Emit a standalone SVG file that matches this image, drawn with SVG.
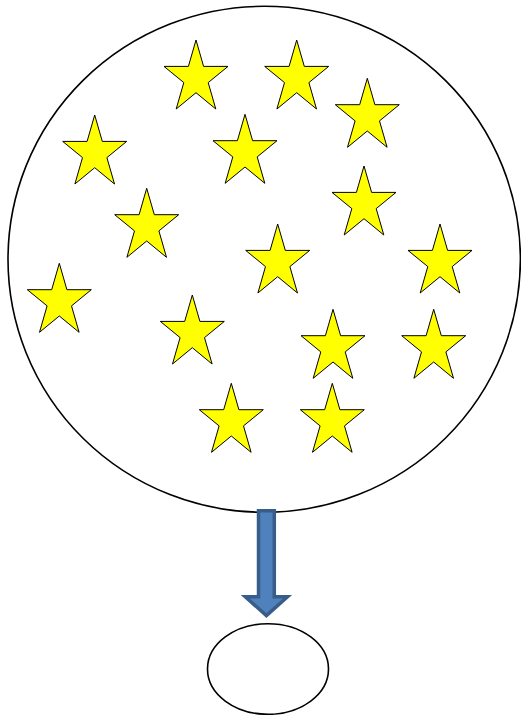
<svg xmlns="http://www.w3.org/2000/svg" xmlns:xlink="http://www.w3.org/1999/xlink" width="521" height="715" viewBox="0 0 521 715">
<style>
.outline{fill:#ffffff;stroke:#000000;stroke-width:1.6}
.star{fill:#ffff00;stroke:#000000;stroke-width:1;stroke-linejoin:miter}
.arrow{fill:#4f81bd;stroke:#385d8a;stroke-width:3.5;stroke-linejoin:miter}
</style>
<defs>
<path id="star" d="M32,0 L39.6,26.4 L64,26.4 L44.2,42.6 L51.8,69 L32,52.7 L12.2,69 L19.8,42.6 L0,26.4 L24.4,26.4 Z"/>
</defs>
<rect width="521" height="715" fill="#ffffff"/>
<g id="big-circle">
<ellipse class="outline" cx="264.2" cy="259.3" rx="256.2" ry="253"/>
</g>
<g id="stars" class="star">
<use xlink:href="#star" href="#star" x="164" y="40"/>
<use xlink:href="#star" href="#star" x="264.7" y="40"/>
<use xlink:href="#star" href="#star" x="335.3" y="78.3"/>
<use xlink:href="#star" href="#star" x="62.7" y="115"/>
<use xlink:href="#star" href="#star" x="213" y="114.3"/>
<use xlink:href="#star" href="#star" x="332" y="166"/>
<use xlink:href="#star" href="#star" x="114.7" y="188.3"/>
<use xlink:href="#star" href="#star" x="245.7" y="224"/>
<use xlink:href="#star" href="#star" x="408" y="224"/>
<use xlink:href="#star" href="#star" x="27.3" y="263.3"/>
<use xlink:href="#star" href="#star" x="160.3" y="295"/>
<use xlink:href="#star" href="#star" x="301" y="309.3"/>
<use xlink:href="#star" href="#star" x="401.7" y="309.3"/>
<use xlink:href="#star" href="#star" x="199.3" y="383.3"/>
<use xlink:href="#star" href="#star" x="300.3" y="383.3"/>
</g>
<g id="connectors">
<path class="arrow" d="M258.5,510.7 L274.3,510.7 L274.3,596.7 L287.5,596.7 L266.4,615.6 L245.3,596.7 L258.5,596.7 Z"/>
</g>
<g id="small-circle">
<ellipse class="outline" cx="268" cy="669" rx="60.5" ry="45.3"/>
</g>
</svg>
